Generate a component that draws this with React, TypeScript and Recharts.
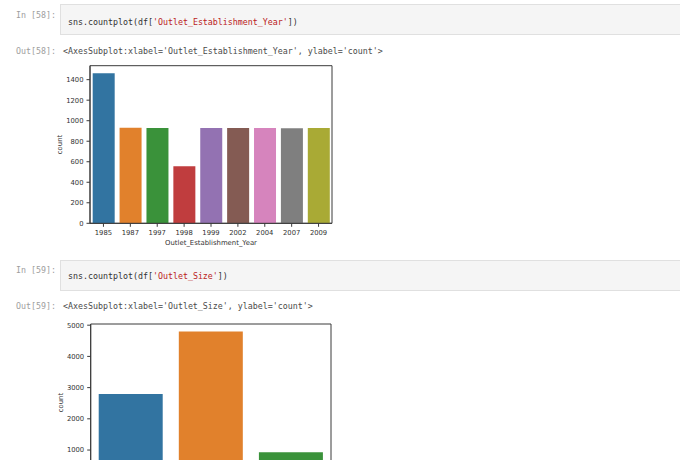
import React from 'react';
import { BarChart, Bar, XAxis, YAxis, Cell, ReferenceArea } from 'recharts';

const years = ['1985', '1987', '1997', '1998', '1999', '2002', '2004', '2007', '2009'];
const yearCounts = [1463, 932, 930, 555, 930, 929, 930, 926, 928];
const yearTicks = [0, 200, 400, 600, 800, 1000, 1200, 1400];

const sizes = ['Medium', 'Small', 'High'];
const sizeCounts = [2793, 4798, 932];
// only the ticks visible inside the cropped screenshot
const sizeTicks = [1000, 2000, 3000, 4000, 5000];

const palette = ['#3274a1', '#e1812c', '#3a923a', '#c03d3e', '#9372b2', '#845b53', '#d684bd', '#7f7f7f', '#a9aa35'];

const yearData = years.map((y, i) => ({ cat: y, count: yearCounts[i] }));
const sizeData = sizes.map((s, i) => ({ cat: s, count: sizeCounts[i] }));

const mono = '"DejaVu Sans Mono", "Liberation Mono", monospace';
const axisFont = '"DejaVu Sans", sans-serif';
const spine = '#3a3a3a';
const tickColor = '#333';

function Count({ data, max, ticks, xLabel, margin, showX }: any) {
  const tickStyle = { fontSize: 6.8, fill: tickColor, fontFamily: axisFont };
  return (
    <BarChart width={680} height={260} data={data} margin={margin} barCategoryGap="10%">
      <XAxis
        dataKey="cat"
        interval={0}
        height={24}
        tickSize={3.5}
        tickMargin={3}
        tick={showX ? tickStyle : false}
        axisLine={{ stroke: spine }}
        tickLine={showX ? { stroke: spine } : false}
        label={showX ? { value: xLabel, position: 'insideBottom', offset: 2, style: { fontSize: 6.9, fill: tickColor, fontFamily: axisFont } } : undefined}
      />
      <YAxis
        width={40}
        domain={[0, max]}
        ticks={ticks}
        type="number"
        allowDataOverflow
        tickSize={3.5}
        tickMargin={3}
        tick={tickStyle}
        axisLine={{ stroke: spine }}
        tickLine={{ stroke: spine }}
        label={{ value: 'count', angle: -90, position: 'insideLeft', offset: 10, style: { textAnchor: 'middle', fontSize: 6.9, fill: tickColor, fontFamily: axisFont } }}
      />
      <Bar dataKey="count" isAnimationActive={false}>
        {data.map((_: any, i: number) => (
          <Cell key={i} fill={palette[i % palette.length]} />
        ))}
      </Bar>
      <ReferenceArea y1={0} y2={max} fill="none" fillOpacity={0} stroke={spine} strokeWidth={1} ifOverflow="visible" />
    </BarChart>
  );
}

const promptStyle: React.CSSProperties = {
  position: 'absolute',
  fontFamily: mono,
  fontSize: 8.3,
  lineHeight: '10px',
  color: '#9e9e9e',
  whiteSpace: 'pre',
};
const codeStyle: React.CSSProperties = { ...promptStyle, color: '#333' };
const outStyle: React.CSSProperties = { ...promptStyle, color: '#4a4a4a' };
const str = '#ba2121';

function Cellbox({ top }: { top: number }) {
  return (
    <div
      style={{
        position: 'absolute',
        left: 60,
        top,
        width: 640,
        height: 31,
        background: '#f5f5f5',
        border: '1px solid #e0e0e0',
        boxSizing: 'border-box',
      }}
    />
  );
}

export default function App() {
  return (
    <div style={{ position: 'fixed', left: 0, top: 0, width: 680, height: 460, overflow: 'hidden', background: '#fff' }}>
      <Cellbox top={4} />
      <div style={{ ...promptStyle, left: 16, top: 10 }}>In [58]:</div>
      <div style={{ ...codeStyle, left: 68, top: 16.7 }}>
        sns.countplot(df[<span style={{ color: str }}>'Outlet_Establishment_Year'</span>])
      </div>
      <div style={{ ...promptStyle, left: 16, top: 45.7 }}>Out[58]:</div>
      <div style={{ ...outStyle, left: 63, top: 45.7 }}>
        {"<AxesSubplot:xlabel='Outlet_Establishment_Year', ylabel='count'>"}
      </div>

      <div style={{ position: 'absolute', left: 0, top: 0 }}>
        <Count
          data={yearData}
          max={1536.15}
          ticks={yearTicks}
          xLabel="Outlet_Establishment_Year"
          showX
          margin={{ top: 65.7, right: 348, left: 50, bottom: 12.7 }}
        />
      </div>

      <Cellbox top={260} />
      <div style={{ ...promptStyle, left: 16, top: 265 }}>In [59]:</div>
      <div style={{ ...codeStyle, left: 68, top: 270.7 }}>
        sns.countplot(df[<span style={{ color: str }}>'Outlet_Size'</span>])
      </div>
      <div style={{ ...promptStyle, left: 16, top: 300.7 }}>Out[59]:</div>
      <div style={{ ...outStyle, left: 63, top: 300.7 }}>
        {"<AxesSubplot:xlabel='Outlet_Size', ylabel='count'>"}
      </div>

      <div style={{ position: 'absolute', left: 0, top: 260 }}>
        <Count
          data={sizeData}
          max={5037.9}
          ticks={sizeTicks}
          xLabel="Outlet_Size"
          showX={false}
          margin={{ top: 64, right: 349, left: 50.7, bottom: 14.75 }}
        />
      </div>
    </div>
  );
}
